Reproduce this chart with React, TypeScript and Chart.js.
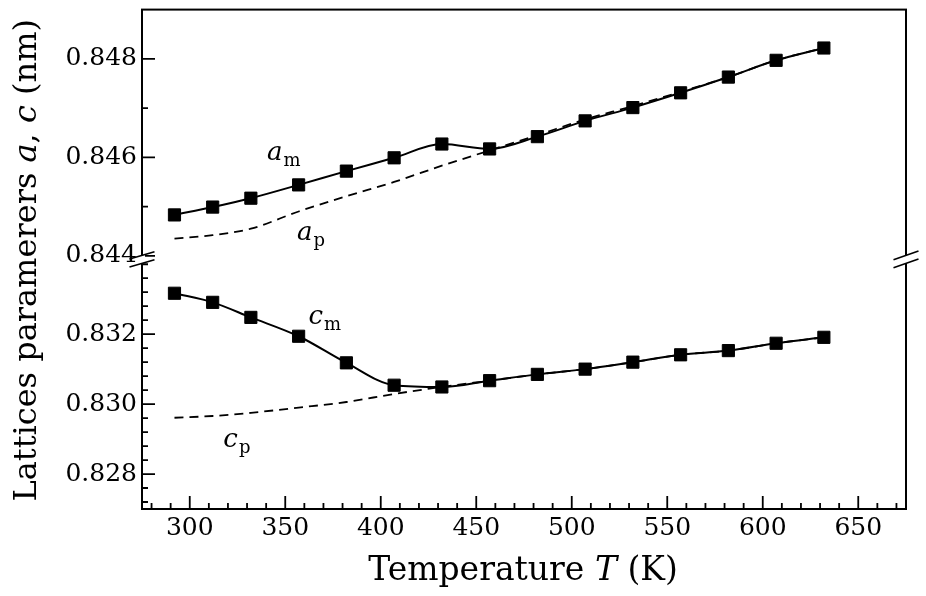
import React, { useEffect, useRef } from 'react';
import { Chart, registerables } from 'chart.js';

Chart.register(...registerables);

// ---------- data ----------
const temperatures = [292, 312, 332, 357, 382, 407, 432, 457, 482, 507, 532, 557, 582, 607, 632];
const aMeasured = [0.84483, 0.84499, 0.84517, 0.84544, 0.84572, 0.84599, 0.84627, 0.84617, 0.84642, 0.84674, 0.84701, 0.84731, 0.84763, 0.84797, 0.84822];
const aParaphase = [0.84435, 0.84442, 0.84455, 0.8449, 0.84521, 0.8455, 0.84583, 0.84614, 0.84645, 0.84677, 0.84704, 0.84733, 0.84763, 0.84797, 0.84822];
const cMeasured = [0.83317, 0.83291, 0.83248, 0.83194, 0.83118, 0.83054, 0.83049, 0.83067, 0.83085, 0.831, 0.8312, 0.83141, 0.83153, 0.83174, 0.83191];
const cParaphase = [0.82961, 0.82966, 0.82975, 0.8299, 0.83006, 0.83029, 0.83049, 0.83067, 0.83085, 0.831, 0.8312, 0.83141, 0.83153, 0.83174, 0.83191];

// ---------- axes ----------
const xRange = [275, 675];
const xMajorTicks = [300, 350, 400, 450, 500, 550, 600, 650];
const xMinorStep = 10;
const aRange = [0.843929, 0.849];
const aMajorTicks = [0.844, 0.846, 0.848];
const aMinorStep = 0.001;
const cRange = [0.827, 0.834141];
const cMajorTicks = [0.828, 0.83, 0.832];
const cMinorStep = 0.0004;

const xTitle = [
  { text: 'Temperature ', italic: false },
  { text: 'T', italic: true },
  { text: ' (K)', italic: false },
];
const yTitle = [
  { text: 'Lattices paramerers ', italic: false },
  { text: 'a', italic: true },
  { text: ', ', italic: false },
  { text: 'c', italic: true },
  { text: ' (nm)', italic: false },
];

const curveLabels = [
  { main: 'a', sub: 'm', x: 340.5, y: 0.84594, axis: 'yHigh' },
  { main: 'a', sub: 'p', x: 356.2, y: 0.84432, axis: 'yHigh' },
  { main: 'c', sub: 'm', x: 362.2, y: 0.83228, axis: 'yLow' },
  { main: 'c', sub: 'p', x: 317.6, y: 0.82878, axis: 'yLow' },
];

const FONT = 'DejaVu Serif';
const TICK_SIZE = 25;
const X_TITLE_SIZE = 33;
const Y_TITLE_SIZE = 32;

const pts = (ys: number[]) => temperatures.map((t, i) => ({ x: t, y: ys[i] }));

function minorValues(min: number, max: number, step: number, majors: number[]) {
  const out: number[] = [];
  const k0 = Math.ceil(min / step - 1e-6);
  const k1 = Math.floor(max / step + 1e-6);
  for (let k = k0; k <= k1; k++) {
    const v = k * step;
    if (majors.some((m) => Math.abs(m - v) < step * 0.01)) continue;
    out.push(v);
  }
  return out;
}

function drawRich(ctx: CanvasRenderingContext2D, segs: { text: string; italic: boolean }[], size: number) {
  const fontOf = (it: boolean) => `${it ? 'italic ' : ''}${size}px "${FONT}"`;
  let total = 0;
  const widths = segs.map((s) => {
    ctx.font = fontOf(s.italic);
    const w = ctx.measureText(s.text).width;
    total += w;
    return w;
  });
  let x = -total / 2;
  ctx.textAlign = 'left';
  ctx.textBaseline = 'alphabetic';
  segs.forEach((s, i) => {
    ctx.font = fontOf(s.italic);
    ctx.fillText(s.text, x, 0);
    x += widths[i];
  });
}

const framePlugin = {
  id: 'framePlugin',
  afterDatasetsDraw(chart: any) {
    const { ctx, chartArea } = chart;
    const { left, right, top, bottom } = chartArea;
    const xs = chart.scales.x;
    const yH = chart.scales.yHigh;
    const yL = chart.scales.yLow;
    ctx.save();
    ctx.strokeStyle = '#000';
    ctx.fillStyle = '#000';
    // frame
    ctx.lineWidth = 2;
    ctx.strokeRect(left, top, right - left, bottom - top);

    // ticks (inward)
    ctx.lineWidth = 1.8;
    const MAJ = 13;
    const MIN = 6;
    ctx.beginPath();
    xMajorTicks.forEach((v) => {
      const p = xs.getPixelForValue(v);
      ctx.moveTo(p, bottom);
      ctx.lineTo(p, bottom - MAJ);
    });
    minorValues(xRange[0], xRange[1], xMinorStep, xMajorTicks).forEach((v) => {
      const p = xs.getPixelForValue(v);
      if (p < left + 2 || p > right - 2) return;
      ctx.moveTo(p, bottom);
      ctx.lineTo(p, bottom - MIN);
    });
    const yTicks = (scale: any, majors: number[], range: number[], step: number) => {
      majors.forEach((v) => {
        const p = scale.getPixelForValue(v);
        ctx.moveTo(left, p);
        ctx.lineTo(left + MAJ, p);
      });
      minorValues(range[0], range[1], step, majors).forEach((v) => {
        const p = scale.getPixelForValue(v);
        if (p < scale.top + 4 || p > scale.bottom - 4) return;
        ctx.moveTo(left, p);
        ctx.lineTo(left + MIN, p);
      });
    };
    yTicks(yH, aMajorTicks, aRange, aMinorStep);
    yTicks(yL, cMajorTicks, cRange, cMinorStep);
    ctx.stroke();

    // axis break marks
    const B = yH.bottom;
    const hw = 12.5;
    const gap = 4;
    [left, right].forEach((cx) => {
      const slope = cx === left ? 0.29 : 0.35;
      ctx.fillStyle = '#fff';
      ctx.beginPath();
      ctx.moveTo(cx - 3, B - gap + slope * 3);
      ctx.lineTo(cx + 3, B - gap - slope * 3);
      ctx.lineTo(cx + 3, B + gap - slope * 3);
      ctx.lineTo(cx - 3, B + gap + slope * 3);
      ctx.closePath();
      ctx.fill();
      ctx.lineWidth = 1.6;
      ctx.beginPath();
      [-gap, gap].forEach((g) => {
        ctx.moveTo(cx - hw, B + g + slope * hw);
        ctx.lineTo(cx + hw, B + g - slope * hw);
      });
      ctx.stroke();
    });

    // curve labels
    ctx.fillStyle = '#000';
    ctx.textAlign = 'left';
    ctx.textBaseline = 'alphabetic';
    curveLabels.forEach((l) => {
      const sc = chart.scales[l.axis];
      const px = xs.getPixelForValue(l.x);
      const py = sc.getPixelForValue(l.y);
      ctx.font = `italic 26px "${FONT}"`;
      ctx.fillText(l.main, px, py);
      const w = ctx.measureText(l.main).width;
      ctx.font = `18px "${FONT}"`;
      ctx.fillText(l.sub, px + w + 1, py + 6);
    });

    // axis titles
    ctx.save();
    ctx.translate((left + right) / 2 - 1, 580);
    drawRich(ctx, xTitle, X_TITLE_SIZE);
    ctx.restore();
    ctx.save();
    ctx.translate(36, (top + bottom) / 2 + 1);
    ctx.rotate(-Math.PI / 2);
    drawRich(ctx, yTitle, Y_TITLE_SIZE);
    ctx.restore();

    ctx.restore();
  },
};

export default function App() {
  const ref = useRef<HTMLCanvasElement>(null);
  useEffect(() => {
    const tickFont = { family: FONT, size: TICK_SIZE };
    const yScale = (range: number[], majors: number[]) => ({
      type: 'linear',
      position: 'left',
      stack: 'y',
      stackWeight: 1,
      min: range[0],
      max: range[1],
      afterBuildTicks: (s: any) => {
        s.ticks = majors.map((v) => ({ value: v }));
      },
      afterFit: (s: any) => {
        s.width = 142;
        s.paddingTop = 0;
        s.paddingBottom = 0;
      },
      grid: { display: false, drawTicks: false },
      border: { display: false },
      ticks: {
        font: tickFont,
        color: '#000',
        padding: 5,
        autoSkip: false,
        callback: (v: any) => Number(v).toFixed(3),
      },
    });
    const chart = new Chart(ref.current as HTMLCanvasElement, {
      type: 'line',
      data: {
        datasets: [
          {
            label: 'a_p',
            data: pts(aParaphase),
            yAxisID: 'yHigh',
            borderColor: '#000',
            borderWidth: 1.8,
            borderDash: [9, 6],
            pointRadius: 0,
            cubicInterpolationMode: 'monotone',
            fill: false,
          },
          {
            label: 'c_p',
            data: pts(cParaphase),
            yAxisID: 'yLow',
            borderColor: '#000',
            borderWidth: 1.8,
            borderDash: [9, 6],
            pointRadius: 0,
            cubicInterpolationMode: 'monotone',
            fill: false,
          },
          {
            label: 'a_m',
            data: pts(aMeasured),
            yAxisID: 'yHigh',
            borderColor: '#000',
            borderWidth: 2,
            pointStyle: 'rect',
            pointRadius: 8.6,
            pointBackgroundColor: '#000',
            pointBorderColor: '#000',
            pointBorderWidth: 1,
            cubicInterpolationMode: 'monotone',
            fill: false,
          },
          {
            label: 'c_m',
            data: pts(cMeasured),
            yAxisID: 'yLow',
            borderColor: '#000',
            borderWidth: 2,
            pointStyle: 'rect',
            pointRadius: 8.6,
            pointBackgroundColor: '#000',
            pointBorderColor: '#000',
            pointBorderWidth: 1,
            cubicInterpolationMode: 'monotone',
            fill: false,
          },
        ],
      } as any,
      options: {
        animation: false,
        responsive: true,
        maintainAspectRatio: false,
        layout: { padding: { top: 7, right: 20, bottom: 0, left: 0 } },
        plugins: { legend: { display: false }, tooltip: { enabled: false } },
        scales: {
          x: {
            type: 'linear',
            position: 'bottom',
            min: xRange[0],
            max: xRange[1],
            afterBuildTicks: (s: any) => {
              s.ticks = xMajorTicks.map((v) => ({ value: v }));
            },
            afterFit: (s: any) => {
              s.height = 87;
              s.paddingLeft = 0;
              s.paddingRight = 0;
            },
            grid: { display: false, drawTicks: false },
            border: { display: false },
            ticks: { font: tickFont, color: '#000', padding: 4, maxRotation: 0, autoSkip: false },
          },
          yLow: yScale(cRange, cMajorTicks),
          yHigh: yScale(aRange, aMajorTicks),
        } as any,
      },
      plugins: [framePlugin],
    });
    return () => chart.destroy();
  }, []);
  return (
    <div style={{ position: 'fixed', left: 0, top: 0, width: 926, height: 596, background: '#fff' }}>
      <canvas ref={ref} />
    </div>
  );
}
